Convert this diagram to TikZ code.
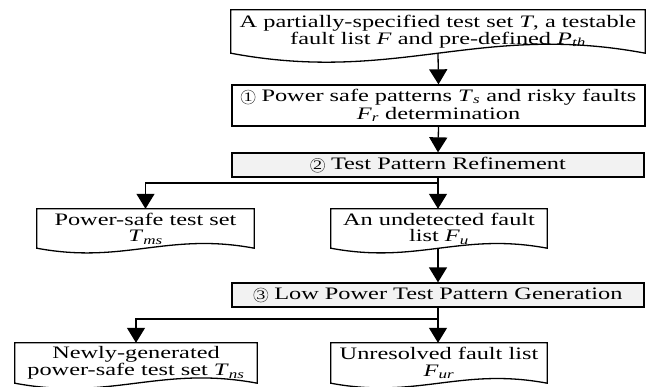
\documentclass[tikz,border=0pt]{standalone}
\usepackage{fontspec}
\setmainfont[FakeStretch=1.39]{Liberation Serif}
\usetikzlibrary{arrows.meta,calc}

% italic symbol with italic subscript
\newcommand\symsub[2]{\textit{#1}\textsubscript{\textit{#2}}}
% step number in a thin circle
\newcommand\circnum[1]{\tikz[baseline=(cn.base)]\node[circle, draw=black!70,
  line width=0.5pt, inner sep=0.6pt, minimum size=14pt,
  font=\fontsize{13}{13}\selectfont] (cn) {#1};}

\definecolor{stepgray}{HTML}{F2F2F2}

\tikzset{
  lw/.style={line width=1.3pt},
  basebox/.style={rectangle, inner sep=0pt, align=center,
    font=\fontsize{17.5}{16.5}\selectfont},
  procbox/.style={basebox, draw, lw, fill=white},
  graybox/.style={procbox, fill=stepgray},
  docbox/.style={basebox, draw=none},
  docline/.style={draw, lw},
  arr/.style={lw, -{Triangle[length=15pt,width=18pt]}},
}

\begin{document}
\begin{tikzpicture}[x=1pt,y=-1pt]
\useasboundingbox (0,0) rectangle (654,386);

% document-shaped inputs and outputs (outline drawn below)
\node[docbox, minimum width=414, minimum height=43] (top) at (438,31.5)
  {A partially-specified test set \textit{T}, a testable\\
   fault list \textit{F} and pre-defined \symsub{P}{th}};
\node[docbox, minimum width=217, minimum height=39] (A) at (145.5,228.5)
  {Power-safe test set\\ \symsub{T}{ms}};
\node[docbox, minimum width=216, minimum height=39] (B) at (439,228.5)
  {An undetected fault\\ list \symsub{F}{u}};
\node[docbox, minimum width=242, minimum height=40] (C) at (136,363)
  {Newly-generated\\ power-safe test set \symsub{T}{ns}};
\node[docbox, minimum width=216, minimum height=40] (D) at (439,363)
  {Unresolved fault list\\ \symsub{F}{ur}};

\foreach \nm in {top,A,B,C,D}{
  \draw[docline] let \p1=(\nm.south west), \p2=(\nm.south east),
      \n1={0.075*(\x2-\x1)} in
    (\nm.south west) -- (\nm.north west) -- (\nm.north east) -- (\nm.south east)
    .. controls ({\x1+0.6*(\x2-\x1)},{\y1+\n1}) and ({\x1+0.4*(\x2-\x1)},{\y1-\n1}) ..
    (\nm.south west) -- cycle;
}

% processing steps
\node[procbox, minimum width=413, minimum height=41,
      font=\fontsize{17.5}{18}\selectfont] (b1) at (438.5,105.5)
  {\circnum{1} Power safe patterns \symsub{T}{s} and risky faults\\
   \symsub{F}{r} determination};
\node[graybox, minimum width=412, minimum height=24] (b2) at (438,165)
  {\circnum{2} Test Pattern Refinement};
\node[graybox, minimum width=412, minimum height=24] (b3) at (438,295)
  {\circnum{3} Low Power Test Pattern Generation};

% connectors
\coordinate (j1) at (438,183);
\coordinate (j2) at (438,319);
\draw[arr] (top.south) -- (b1.north);
\draw[arr] (b1.south) -- (b2.north);
\draw[lw] (b2.south) -- (j1);
\draw[arr] (j1) -| (A.north);
\draw[arr] (j1) -- (j1 |- B.north);
\draw[arr] (j1 |- B.south) -- (b3.north);
\draw[lw] (b3.south) -- (j2);
\draw[arr] (j2) -| (C.north);
\draw[arr] (j2) -- (j2 |- D.north);
\end{tikzpicture}
\end{document}
